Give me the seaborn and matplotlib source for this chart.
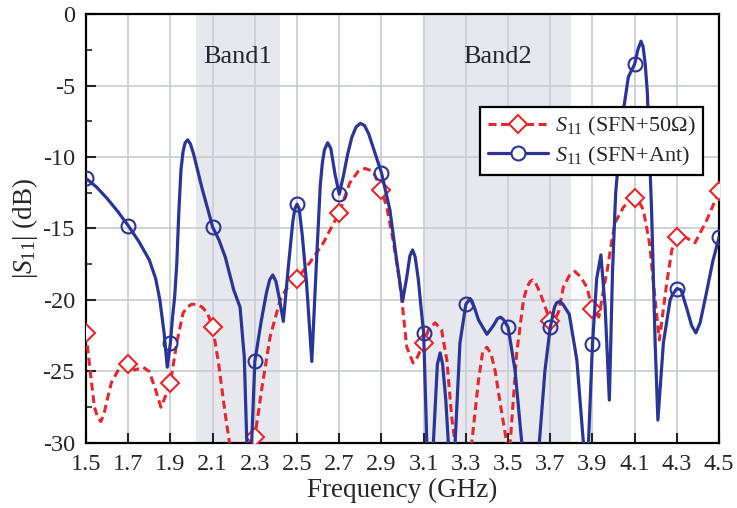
import numpy as np
import matplotlib
matplotlib.use("Agg")
import matplotlib.pyplot as plt
from matplotlib.lines import Line2D
from matplotlib.ticker import MultipleLocator
import seaborn as sns

# |S11| (GHz, dB)
freq_ant = [1.50, 1.55, 1.60, 1.65, 1.70, 1.75, 1.80, 1.83, 1.85, 1.87, 1.885, 1.90,
            1.91, 1.92, 1.93, 1.94, 1.95, 1.96, 1.97, 1.982, 1.995, 2.01, 2.03, 2.05,
            2.08, 2.10, 2.13, 2.16, 2.20, 2.23, 2.25, 2.262, 2.27, 2.285, 2.30, 2.33,
            2.355, 2.37, 2.385, 2.40, 2.415, 2.435, 2.46, 2.48, 2.49, 2.50, 2.51, 2.525,
            2.545, 2.57, 2.59, 2.61, 2.62, 2.63, 2.645, 2.66, 2.68, 2.70, 2.72, 2.74,
            2.76, 2.78, 2.80, 2.82, 2.84, 2.86, 2.90, 2.94, 2.97, 3.00, 3.02, 3.035,
            3.048, 3.06, 3.075, 3.09, 3.10, 3.115, 3.13, 3.146, 3.165, 3.178, 3.19, 3.205,
            3.217, 3.23, 3.249, 3.272, 3.30, 3.32, 3.34, 3.36, 3.40, 3.43, 3.45, 3.465,
            3.48, 3.50, 3.533, 3.565, 3.60, 3.648, 3.675, 3.70, 3.72, 3.73, 3.745, 3.76,
            3.79, 3.826, 3.857, 3.87, 3.881, 3.90, 3.92, 3.94, 3.96, 3.98, 3.995, 4.01,
            4.04, 4.07, 4.10, 4.115, 4.13, 4.14, 4.15, 4.16, 4.18, 4.197, 4.21, 4.236,
            4.268, 4.28, 4.30, 4.32, 4.347, 4.37, 4.39, 4.41, 4.44, 4.47, 4.50]
s11_ant = [-11.5, -12.1, -12.9, -13.8, -14.8, -15.9, -17.2, -18.5, -20.0, -22.3, -24.7, -23.0,
           -21.2, -19.8, -17.5, -13.8, -10.9, -9.6, -9.0, -8.8, -9.1, -9.8, -11.0, -12.2,
           -13.8, -14.9, -15.8, -17.0, -19.3, -20.5, -24.0, -30.0, -33.0, -30.0, -24.3, -21.5,
           -19.5, -18.6, -18.25, -18.7, -19.8, -21.5, -17.5, -14.5, -13.6, -13.3, -13.6, -15.5,
           -18.8, -24.3, -18.0, -12.0, -10.4, -9.5, -9.0, -9.4, -11.2, -12.6, -11.3, -9.8,
           -8.6, -7.9, -7.65, -7.8, -8.4, -9.3, -11.1, -13.7, -17.0, -20.1, -18.4, -16.9,
           -16.5, -17.0, -18.6, -20.9, -22.3, -30.0, -33.0, -30.0, -24.5, -23.7, -24.5, -27.0,
           -30.0, -33.0, -30.0, -23.0, -20.3, -19.9, -20.5, -21.4, -22.4, -21.8, -21.3, -21.2,
           -21.4, -21.9, -24.9, -30.0, -34.0, -30.0, -24.9, -21.9, -20.5, -20.2, -20.1, -20.3,
           -21.0, -24.2, -30.0, -32.0, -30.0, -23.1, -18.5, -16.85, -20.5, -27.0, -18.0, -12.5,
           -7.4, -4.4, -3.5, -2.5, -1.9, -2.3, -3.5, -5.5, -13.7, -23.0, -28.4, -23.0,
           -20.0, -19.6, -19.2, -19.3, -20.6, -21.8, -22.3, -21.6, -19.5, -17.3, -15.6]

freq_50 = [1.50, 1.52, 1.54, 1.555, 1.57, 1.585, 1.60, 1.62, 1.66, 1.70, 1.73, 1.77,
           1.80, 1.83, 1.855, 1.88, 1.90, 1.93, 1.96, 1.98, 2.00, 2.025, 2.05, 2.075,
           2.10, 2.127, 2.16, 2.18, 2.23, 2.277, 2.30, 2.333, 2.372, 2.42, 2.45, 2.50,
           2.56, 2.625, 2.66, 2.70, 2.75, 2.79, 2.822, 2.86, 2.90, 2.925, 2.955, 2.985,
           3.00, 3.02, 3.05, 3.07, 3.10, 3.125, 3.155, 3.185, 3.21, 3.233, 3.249, 3.30,
           3.328, 3.36, 3.38, 3.40, 3.42, 3.438, 3.47, 3.494, 3.50, 3.51, 3.541, 3.573,
           3.59, 3.605, 3.617, 3.63, 3.652, 3.70, 3.715, 3.74, 3.762, 3.79, 3.817, 3.845,
           3.873, 3.90, 3.93, 3.952, 3.97, 3.99, 4.007, 4.047, 4.075, 4.10, 4.12, 4.141,
           4.17, 4.197, 4.217, 4.252, 4.276, 4.30, 4.339, 4.386, 4.442, 4.50]
s11_50 = [-22.3, -25.0, -27.5, -28.2, -28.5, -28.0, -27.0, -25.8, -24.7, -24.5, -24.9, -24.7,
          -25.0, -26.3, -27.5, -26.6, -25.8, -23.0, -20.9, -20.5, -20.3, -20.3, -20.5, -20.9,
          -21.9, -24.3, -28.0, -30.0, -34.0, -30.0, -29.6, -26.2, -22.6, -20.0, -19.2, -18.5,
          -17.4, -16.0, -15.0, -13.9, -11.8, -11.0, -10.8, -11.0, -12.3, -13.5, -15.8, -18.6,
          -20.5, -23.3, -24.4, -24.0, -23.0, -22.0, -21.6, -22.1, -24.2, -28.2, -30.0, -34.0,
          -30.0, -25.6, -23.6, -23.3, -23.8, -24.9, -27.9, -30.0, -31.0, -30.0, -23.7, -20.0,
          -19.1, -18.7, -18.6, -18.8, -19.5, -21.5, -21.6, -20.8, -19.1, -18.3, -18.0, -18.4,
          -19.1, -20.6, -21.2, -19.3, -17.9, -16.0, -14.6, -13.5, -13.1, -12.9, -13.1, -13.7,
          -16.0, -20.0, -22.8, -18.8, -16.5, -15.6, -15.6, -16.0, -14.4, -12.4]

bands = ["Band1", "Band2"]
band_lo = [2.02, 3.10]
band_hi = [2.42, 3.80]

blue = "#2a3598"
red = "#e8262b"

sns.set_style("ticks")
plt.rcParams["font.family"] = ["Liberation Serif", "DejaVu Serif"]
plt.rcParams["mathtext.fontset"] = "custom"
plt.rcParams["mathtext.rm"] = "Liberation Serif"
plt.rcParams["mathtext.it"] = "Liberation Serif:italic"

fig = plt.figure(figsize=(7.37, 5.08), dpi=100)
ax = fig.add_axes([0.1167, 0.128, 0.859, 0.8444])

for lo, hi, name in zip(band_lo, band_hi, bands):
    ax.axvspan(lo, hi, color="#e6e8ee", lw=0, zorder=0)
    ax.text((lo + hi) / 2, -3.0, name, ha="center", va="center", fontsize=19)


def marker_mask(f):
    f = np.asarray(f)
    k = (f - 1.5) / 0.2
    return list(np.isclose(k, np.round(k)))


dash = (0, (2.6, 1.5))
sns.lineplot(x=freq_50, y=s11_50, ax=ax, sort=False, estimator=None, color=red,
             linestyle=dash, lw=2.2, marker="D", markersize=9,
             markerfacecolor="white", markeredgecolor=red, markeredgewidth=1.5,
             markevery=marker_mask(freq_50), zorder=3)
sns.lineplot(x=freq_ant, y=s11_ant, ax=ax, sort=False, estimator=None, color=blue,
             lw=2.3, marker="o", markersize=10, markerfacecolor="none",
             markeredgecolor=blue, markeredgewidth=1.5,
             markevery=marker_mask(freq_ant), zorder=4)

ax.set_xlim(1.5, 4.5)
ax.set_ylim(-30, 0)
ax.yaxis.set_minor_locator(MultipleLocator(2.5))
xt = np.arange(1.5, 4.51, 0.2)
ax.set_xticks(xt)
ax.set_xticklabels([f"{v:.1f}" for v in xt])
ax.set_yticks(np.arange(-30, 1, 5))
ax.set_yticklabels([f"{int(v)}" for v in np.arange(-30, 1, 5)])
ax.grid(True, which="major", color="#c8cbd5", lw=1.2, zorder=1)
ax.set_axisbelow(True)
ax.tick_params(axis="both", which="major", direction="in", length=7, width=1.5,
               labelsize=17.5, top=False, right=False, pad=8)
ax.tick_params(axis="y", which="minor", direction="in", length=4, width=1.2)
for sp in ax.spines.values():
    sp.set_linewidth(1.6)
    sp.set_color("black")

ax.set_xlabel("Frequency (GHz)", fontsize=19.5, labelpad=2)
ax.set_ylabel(r"$|S_{\mathrm{11}}|$ (dB)", fontsize=19.5, labelpad=2)

handles = [
    Line2D([], [], color=red, linestyle=dash, lw=2.2, marker="D", markersize=9,
           markerfacecolor="white", markeredgecolor=red, markeredgewidth=1.5),
    Line2D([], [], color=blue, lw=2.3, marker="o", markersize=10, markerfacecolor="white",
           markeredgecolor=blue, markeredgewidth=1.5),
]
labels = [r"$S_{\mathrm{11}}$ (SFN+50$\Omega$)", r"$S_{\mathrm{11}}$ (SFN+Ant)"]
leg = ax.legend(handles, labels, loc="upper right", bbox_to_anchor=(0.975, 0.783),
                borderaxespad=0, fontsize=16, fancybox=False, framealpha=1,
                edgecolor="black", handlelength=2.7, handletextpad=0.3,
                borderpad=0.35, labelspacing=0.3)
leg.get_frame().set_linewidth(1.6)

fig.savefig("out.png", dpi=100)
